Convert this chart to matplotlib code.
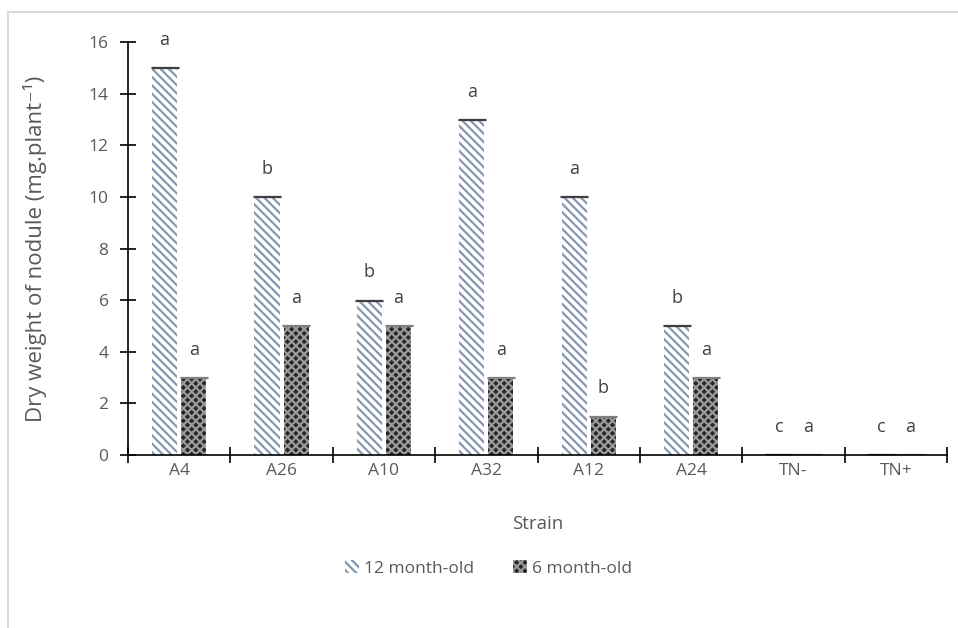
import matplotlib.pyplot as plt
import numpy as np
from matplotlib.lines import Line2D
from matplotlib.patches import Patch

plt.rcParams["font.family"] = ["Open Sans", "DejaVu Sans"]
plt.rcParams["hatch.linewidth"] = 1.6

# Data
strains = ["A4", "A26", "A10", "A32", "A12", "A24", "TN-", "TN+"]
old_12 = [15, 10, 6, 13, 10, 5, 0, 0]
old_6 = [3, 5, 5, 3, 1.5, 3, 0, 0]
letters_12 = ["a", "b", "b", "a", "a", "b", "c", "c"]
letters_6 = ["a", "a", "a", "a", "b", "a", "a", "a"]

text_col = "#595959"
stripe_col = "#8497b0"
check_face = "#262626"
check_line = "#9a9a9a"

fig = plt.figure(figsize=(9.58, 6.28), dpi=100)
ax = fig.add_axes([0.1336, 0.2755, 0.855, 0.6575])

x = np.arange(len(strains))
w = 0.245
gap = 0.02

ax.bar(x - w / 2 - gap, old_12, w, color="white", edgecolor=stripe_col,
       hatch="\\\\\\\\", linewidth=0)
ax.bar(x + w / 2 + gap, old_6, w, color=check_face, edgecolor=check_line,
       hatch="xxxx", linewidth=0)

# tiny error bar caps on top of each bar
ax.errorbar(x - w / 2 - gap, old_12, yerr=0.02, fmt="none", ecolor="#404040",
            capsize=10, elinewidth=0.6, capthick=0.9)
ax.errorbar(x + w / 2 + gap, old_6, yerr=0.02, fmt="none", ecolor="#808080",
            capsize=10, elinewidth=0.6, capthick=0.9)

# significance letters
for xi, v, t in zip(x - w / 2 - gap, old_12, letters_12):
    ax.annotate(t, (xi, v), xytext=(0, 20), textcoords="offset points",
                ha="center", va="center", fontsize=13, color="#404040")
for xi, v, t in zip(x + w / 2 + gap, old_6, letters_6):
    ax.annotate(t, (xi, v), xytext=(0, 20), textcoords="offset points",
                ha="center", va="center", fontsize=13, color="#404040")

ax.set_xlim(-0.5, len(strains) - 0.5)
ax.set_ylim(0, 16)
ax.set_yticks(np.arange(0, 17, 2))
ax.set_xticks(x)
ax.set_xticklabels(strains)
ax.set_xticks(np.arange(-0.5, len(strains), 1), minor=True)
ax.tick_params(axis="x", which="major", length=0, pad=6, labelsize=12.5,
               labelcolor=text_col)
ax.tick_params(axis="x", which="minor", direction="inout", length=12,
               width=1.2)
ax.tick_params(axis="y", direction="inout", length=12, width=1.2, pad=8,
               labelsize=12.5, labelcolor=text_col)

for s in ["top", "right"]:
    ax.spines[s].set_visible(False)
ax.spines["left"].set_linewidth(1.2)
ax.spines["bottom"].set_linewidth(1.2)

ax.set_xlabel("Strain", fontsize=13.5, color=text_col, labelpad=26)
ax.set_ylabel("Dry weight of nodule (mg.plant\u207b\u00b9)", fontsize=16,
              color=text_col, labelpad=30)

handles = [Patch(facecolor="white", edgecolor=stripe_col, hatch="\\\\\\\\",
                 linewidth=0, label="12 month-old"),
           Patch(facecolor=check_face, edgecolor=check_line, hatch="xxxx",
                 linewidth=0, label="6 month-old")]
fig.legend(handles=handles, loc="center", bbox_to_anchor=(0.51, 0.095),
           ncol=2, frameon=False, fontsize=12.5, labelcolor=text_col,
           handlelength=0.8, handleheight=0.8, handletextpad=0.3,
           columnspacing=2.2)

# light chart-area border (top and left only, rest is cropped)
fig.add_artist(Line2D([0.0084, 1.0], [0.981, 0.981], color="#d9d9d9", lw=1.5,
                      transform=fig.transFigure))
fig.add_artist(Line2D([0.0084, 0.0084], [0.0, 0.981], color="#d9d9d9", lw=1.5,
                      transform=fig.transFigure))

fig.savefig("out.png", dpi=100)
